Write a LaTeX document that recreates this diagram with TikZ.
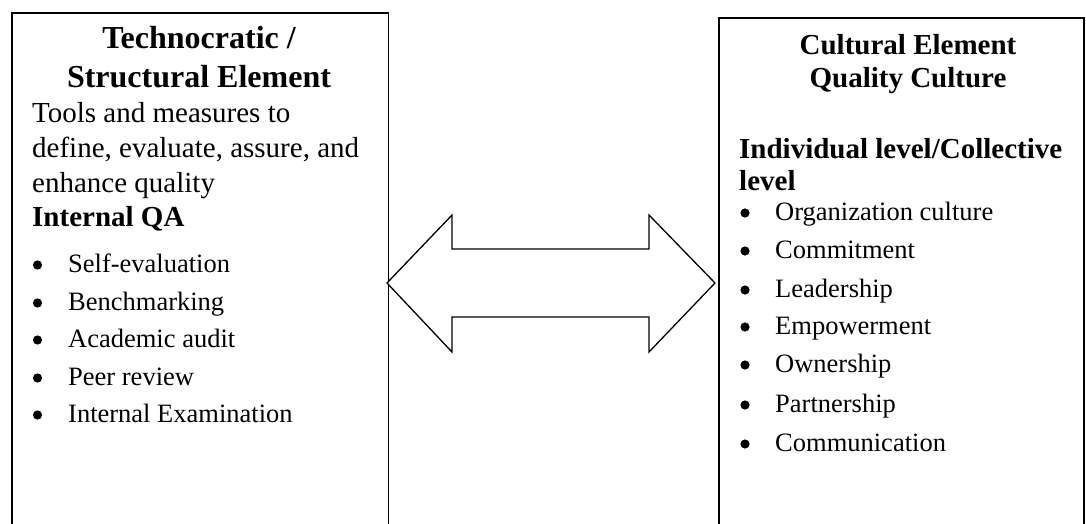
\documentclass[tikz,border=0pt]{standalone}
\usepackage{fontspec}
\setmainfont{Liberation Serif}
\begin{document}
\begin{tikzpicture}[x=1pt,y=-1pt,
  box/.style={draw,line width=1.6pt,rectangle,anchor=north west,inner sep=0pt},
  ttl/.style={anchor=base,inner sep=0pt,font=\fontsize{32}{36}\selectfont\bfseries},
  ttlr/.style={anchor=base,inner sep=0pt,font=\fontsize{29}{33}\selectfont\bfseries},
  body/.style={anchor=base west,inner sep=0pt,font=\fontsize{29}{33}\selectfont},
  bodyb/.style={anchor=base west,inner sep=0pt,font=\fontsize{29}{33}\selectfont\bfseries},
  item/.style={anchor=base west,inner sep=0pt,font=\fontsize{26.5}{30}\selectfont},
  dot/.style={fill=black},
  bigarrow/.style={draw,line width=1.3pt,line join=miter,fill=white}]
\useasboundingbox (0,0) rectangle (1086,524);
\clip (0,0) rectangle (1086,524);
% boxes
\node[box,minimum width=376.5pt,minimum height=540pt] (L) at (11,12) {};
\node[box,minimum width=365pt,minimum height=540pt] (R) at (718,17) {};
% double arrow
\coordinate (tipL) at (387,283);
\coordinate (tipR) at (715,283);
\draw[bigarrow] (tipL) -- (452,215) -- (452,249) -- (649,249) -- (649,215) -- (tipR)
  -- (649,352) -- (649,317) -- (452,317) -- (452,352) -- cycle;
% left texts
\node[ttl] (lt1) at (199,49) {Technocratic /};
\node[ttl] (lt2) at (199,88) {Structural Element};
\node[body] (lb1) at (32,123) {Tools and measures to};
\node[body] (lb2) at (32,157.5) {define, evaluate, assure, and};
\node[body] (lb3) at (32,192) {enhance quality};
\node[bodyb] (lb4) at (32,226) {Internal QA};
\foreach \y/\t [count=\i] in {272/Self-evaluation,310/Benchmarking,347/Academic audit,385/Peer review,422/Internal Examination}{
  \fill[dot] (37.5,\y-7) circle (4.6pt);
  \node[item] (li\i) at (68,\y) {\t};
}
% right texts
\node[ttlr] (rt1) at (908,55) {Cultural Element};
\node[ttlr] (rt2) at (908,88) {Quality Culture};
\node[bodyb] (rb1) at (739,158) {Individual level/Collective};
\node[bodyb] (rb2) at (739,190) {level};
\foreach \y/\t [count=\i] in {220/Organization culture,258/Commitment,297/Leadership,334/Empowerment,372/Ownership,412/Partnership,451/Communication}{
  \fill[dot] (745,\y-7) circle (4.6pt);
  \node[item] (ri\i) at (775,\y) {\t};
}
\end{tikzpicture}
\end{document}
